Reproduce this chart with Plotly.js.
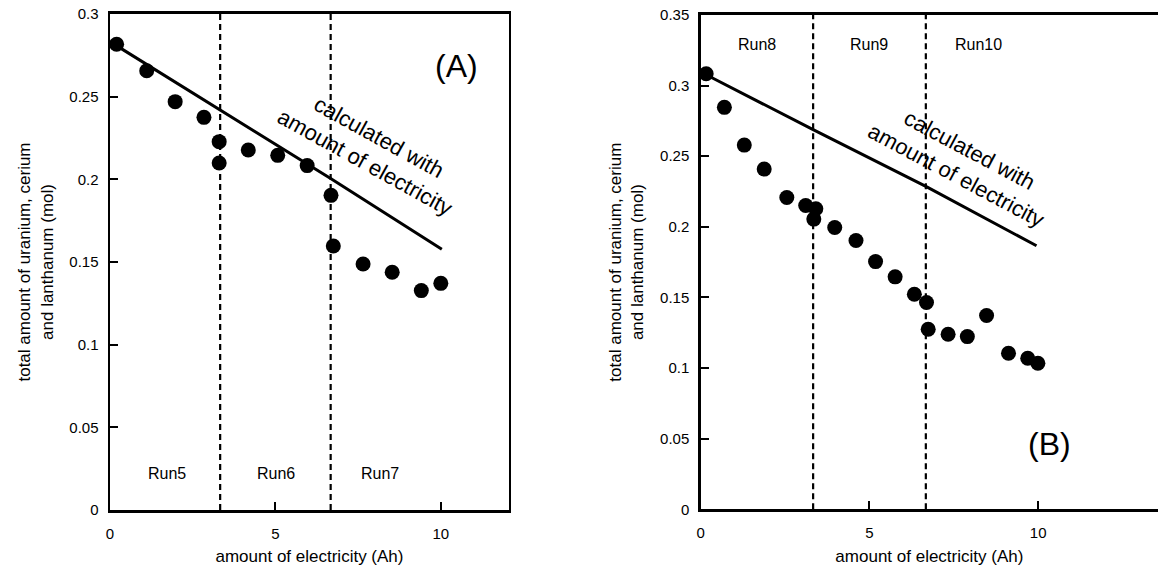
<!DOCTYPE html>
<html><head><meta charset="utf-8">
<script src="https://cdn.plot.ly/plotly-3.0.1.min.js"></script>
<style>html,body{margin:0;padding:0;background:#fff}#chart{width:1158px;height:572px}</style>
</head><body><div id="chart"></div>
<script>
// Panel A data (Run5-Run7)
const xA = [0.20, 1.11, 1.97, 2.84, 3.30, 3.30, 4.18, 5.07, 5.96, 6.68, 6.75, 7.65, 8.53, 9.41, 10.0];
const yA = [0.2817, 0.2657, 0.2470, 0.2375, 0.2228, 0.2099, 0.2177, 0.2145, 0.2083, 0.1903, 0.1597, 0.1488, 0.1438, 0.1327, 0.1371];
const calcXA = [0, 3.33, 6.67, 10.03];
const calcYA = [0.2833, 0.2420, 0.2005, 0.1577];
const runsA = ['Run5', 'Run6', 'Run7'];

// Panel B data (Run8-Run10)
const xB = [0.16, 0.70, 1.29, 1.88, 2.55, 3.11, 3.41, 3.35, 3.97, 4.60, 5.18, 5.76, 6.33, 6.69, 6.74, 7.33, 7.90, 8.47, 9.12, 9.69, 9.99];
const yB = [0.3084, 0.2846, 0.2579, 0.2409, 0.2208, 0.2151, 0.2128, 0.2055, 0.1995, 0.1903, 0.1754, 0.1646, 0.1523, 0.1464, 0.1275, 0.1240, 0.1223, 0.1372, 0.1105, 0.1070, 0.1034];
const calcXB = [0.16, 3.33, 6.67, 9.95];
const calcYB = [0.3077, 0.2688, 0.2286, 0.1866];
const runsB = ['Run8', 'Run9', 'Run10'];

// run boundaries (Ah)
const runBounds = [3.33, 6.67];

const xTitle = 'amount of electricity (Ah)';
const yTitle = 'total amount of uranium, cerium<br>and lanthanum (mol)';
const calcText = 'calculated with<br>amount of electricity';

const FONT = 'Liberation Sans, Arial, Helvetica, sans-serif';

const traces = [
  {x: calcXA, y: calcYA, mode: 'lines', line: {color: '#000', width: 3}, xaxis: 'x', yaxis: 'y', showlegend: false, hoverinfo: 'skip'},
  {x: xA, y: yA, mode: 'markers', marker: {color: '#000', size: 15}, xaxis: 'x', yaxis: 'y', showlegend: false},
  {x: calcXB, y: calcYB, mode: 'lines', line: {color: '#000', width: 3}, xaxis: 'x2', yaxis: 'y2', showlegend: false, hoverinfo: 'skip'},
  {x: xB, y: yB, mode: 'markers', marker: {color: '#000', size: 15}, xaxis: 'x2', yaxis: 'y2', showlegend: false}
];

const shapes = [];
runBounds.forEach(b => {
  shapes.push({type: 'line', xref: 'x', yref: 'y domain', x0: b, x1: b, y0: 0, y1: 1, line: {color: '#000', width: 2.2, dash: '6px,4px'}});
  shapes.push({type: 'line', xref: 'x2', yref: 'y2 domain', x0: b, x1: b, y0: 0, y1: 1, line: {color: '#000', width: 2.2, dash: '6px,4px'}});
});

const runFont = {family: FONT, size: 16, color: '#000'};
const annotations = [
  {xref: 'x', yref: 'y', x: 1.71, y: 0.0218, text: runsA[0], showarrow: false, font: runFont},
  {xref: 'x', yref: 'y', x: 5.02, y: 0.0218, text: runsA[1], showarrow: false, font: runFont},
  {xref: 'x', yref: 'y', x: 8.16, y: 0.0218, text: runsA[2], showarrow: false, font: runFont},
  {xref: 'x2', yref: 'y2', x: 1.66, y: 0.329, text: runsB[0], showarrow: false, font: runFont},
  {xref: 'x2', yref: 'y2', x: 4.99, y: 0.329, text: runsB[1], showarrow: false, font: runFont},
  {xref: 'x2', yref: 'y2', x: 8.24, y: 0.329, text: runsB[2], showarrow: false, font: runFont},
  {xref: 'x', yref: 'y', x: 10.46, y: 0.2686, text: '(A)', showarrow: false, font: {family: FONT, size: 32, color: '#000'}},
  {xref: 'x2', yref: 'y2', x: 10.32, y: 0.0463, text: '(B)', showarrow: false, font: {family: FONT, size: 32, color: '#000'}},
  {xref: 'x', yref: 'y', x: 7.92, y: 0.2177, text: calcText, showarrow: false, textangle: 29, font: {family: FONT, size: 22, color: '#000'}},
  {xref: 'x2', yref: 'y2', x: 7.77, y: 0.2454, text: calcText, showarrow: false, textangle: 28, font: {family: FONT, size: 22, color: '#000'}}
];

const tickFont = {family: FONT, size: 15, color: '#000'};
function xAxis(domain, range, anchor) {
  return {domain: domain, range: range, anchor: anchor, dtick: 5, tick0: 0, ticks: 'inside', ticklen: 8, tickwidth: 2, tickcolor: '#000',
    showline: true, linewidth: 3, linecolor: '#000', mirror: true, showgrid: false, zeroline: false,
    tickfont: tickFont, ticklabelstandoff: 8,
    title: {text: xTitle, font: {family: FONT, size: 17, color: '#000'}, standoff: 10}};
}
function yAxis(domain, range, anchor, mirror) {
  return {domain: domain, range: range, anchor: anchor, dtick: 0.05, tick0: 0, ticks: 'inside', ticklen: 8, tickwidth: 2, tickcolor: '#000',
    showline: true, linewidth: 2.5, linecolor: '#000', mirror: mirror, showgrid: false, zeroline: false,
    tickfont: tickFont, ticklabelstandoff: 6,
    title: {text: yTitle, font: {family: FONT, size: 17, color: '#000'}, standoff: 12}};
}

const layout = {
  width: 1158, height: 572,
  margin: {l: 110, r: 0, t: 14, b: 62},
  paper_bgcolor: '#fff', plot_bgcolor: 'rgba(0,0,0,0)',
  font: {family: FONT, color: '#000'},
  showlegend: false,
  xaxis: xAxis([0, 0.3807], [0, 12.06], 'y'),
  yaxis: yAxis([0, 1], [0, 0.3], 'x', true),
  xaxis2: xAxis([0.5637, 1], [0, 13.55], 'y2'),
  yaxis2: yAxis([0.0014, 0.998], [0, 0.35], 'x2', false),
  shapes: shapes,
  annotations: annotations
};

Plotly.newPlot('chart', traces, layout, {staticPlot: true, displayModeBar: false});
</script></body></html>
